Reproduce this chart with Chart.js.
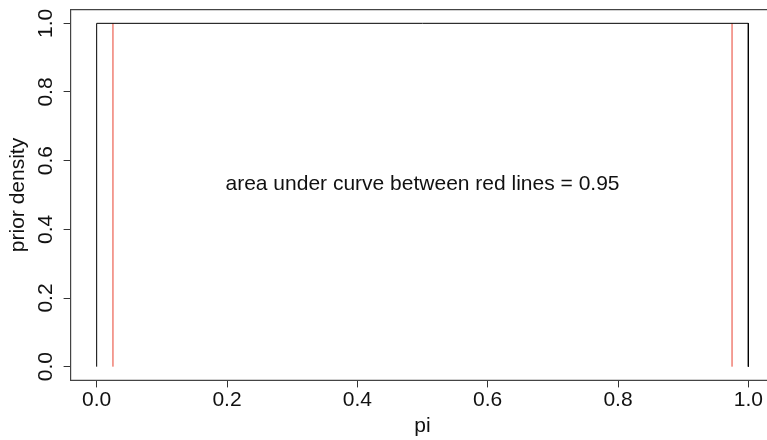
<!DOCTYPE html>
<html>
<head>
<meta charset="utf-8">
<script src="https://cdn.jsdelivr.net/npm/chart.js@4"></script>
<style>
  html, body { margin: 0; padding: 0; background: #fff; overflow: hidden; }
  #wrap { width: 767px; height: 440px; overflow: hidden; }
</style>
</head>
<body>
<div id="wrap"><canvas id="chart" width="790" height="440"></canvas></div>
<script>
// uniform prior on pi, with the central 95% interval marked
const xTicks = [0, 0.2, 0.4, 0.6, 0.8, 1.0];
const yTicks = [0, 0.2, 0.4, 0.6, 0.8, 1.0];
const curveX = [0, 0, 1, 1];
const curveY = [0, 1, 1, 0];
const intervalX = [0.025, 0.975];
const intervalTop = 1;
const noteText = "area under curve between red lines = 0.95";
const notePos = [0.5, 0.53];

const FONT = { family: '"Liberation Sans", Arial, Helvetica, sans-serif', size: 21 };

const datasets = [{
  data: curveX.map((x, i) => ({ x: x, y: curveY[i] })),
  borderColor: "#000",
  borderWidth: 1
}];
intervalX.forEach(x => {
  datasets.push({
    data: [{ x: x, y: 0 }, { x: x, y: intervalTop }],
    borderColor: "#e8402f",
    borderWidth: 1
  });
});

// box round the plot area (its right side falls off the page) + the text note
const extras = {
  id: "extras",
  afterDatasetsDraw(chart) {
    const { ctx, chartArea: a, scales } = chart;
    ctx.save();
    ctx.strokeStyle = "#444";
    ctx.lineWidth = 1.2;
    ctx.beginPath();
    ctx.moveTo(a.right, a.top);
    ctx.lineTo(a.left, a.top);
    ctx.lineTo(a.left, a.bottom);
    ctx.lineTo(a.right, a.bottom);
    ctx.stroke();
    ctx.fillStyle = "#111";
    ctx.font = FONT.size + "px " + FONT.family;
    ctx.textAlign = "center";
    ctx.textBaseline = "middle";
    ctx.fillText(noteText, scales.x.getPixelForValue(notePos[0]), scales.y.getPixelForValue(notePos[1]));
    ctx.restore();
  }
};

// drop the extra room chart.js keeps for the end labels
function noPad(s) {
  s.paddingTop = 0; s.paddingBottom = 0;
  s.paddingLeft = 0; s.paddingRight = 0;
}

new Chart(document.getElementById("chart"), {
  type: "scatter",
  data: { datasets: datasets },
  options: {
    responsive: false,
    animation: false,
    layout: { padding: { top: 9.6, right: 15.6, left: 0, bottom: 0 } },
    elements: { point: { radius: 0 }, line: { tension: 0 } },
    datasets: { scatter: { showLine: true } },
    plugins: { legend: { display: false }, tooltip: { enabled: false } },
    scales: {
      x: {
        type: "linear",
        min: -0.04, max: 1.04,
        afterBuildTicks: s => { s.ticks = xTicks.map(v => ({ value: v })); },
        afterFit: s => { s.height = 59.6; noPad(s); },
        grid: { drawOnChartArea: false, tickLength: 7, tickColor: "#333" },
        border: { display: false },
        ticks: { color: "#111", font: FONT, padding: 0, maxRotation: 0,
                 callback: v => v.toFixed(1) },
        title: { display: true, text: "pi", color: "#111", font: FONT,
                 padding: { top: 0, bottom: 1 } }
      },
      y: {
        type: "linear",
        min: -0.04, max: 1.04,
        afterBuildTicks: s => { s.ticks = yTicks.map(v => ({ value: v })); },
        afterFit: s => { s.width = 70.6; noPad(s); },
        grid: { drawOnChartArea: false, tickLength: 7, tickColor: "#333" },
        border: { display: false },
        ticks: { color: "#111", font: FONT, padding: 3, minRotation: 90, maxRotation: 90,
                 crossAlign: "center", callback: v => v.toFixed(1) },
        title: { display: true, text: "prior density", color: "#111", font: FONT,
                 padding: { top: 5.4, bottom: 0 } }
      }
    }
  },
  plugins: [extras]
});
</script>
</body>
</html>
